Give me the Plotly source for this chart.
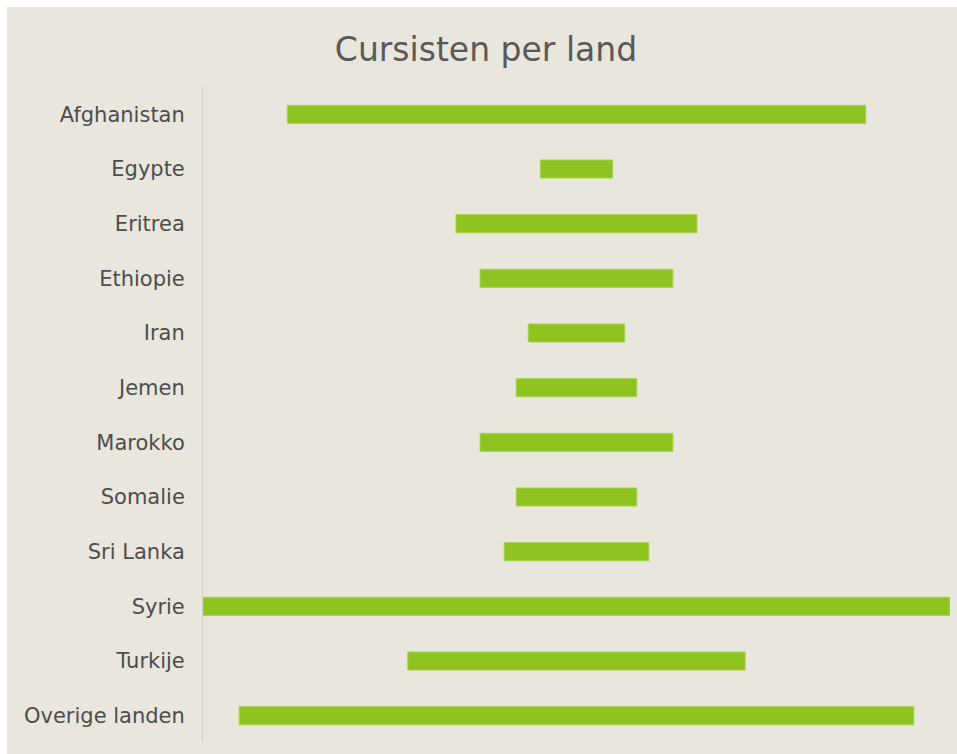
import plotly.graph_objects as go

countries = ["Afghanistan", "Egypte", "Eritrea", "Ethiopie", "Iran", "Jemen",
             "Marokko", "Somalie", "Sri Lanka", "Syrie", "Turkije", "Overige landen"]
cursisten = [48, 6, 20, 16, 8, 10, 16, 10, 12, 62, 28, 56]

BG = "#E9E6DD"
TXT = "#4D4D4D"
W, H = 957, 754
L, R, T, B = 203, 7, 87, 11
pw, ph = W - L - R, H - T - B

fig = go.Figure(go.Funnel(
    y=countries,
    x=cursisten,
    textinfo="none",
    connector={"visible": False},
    marker={"color": "#8FC31F", "line": {"color": "#A8D14E", "width": 1}},
    hoverinfo="x+y",
))

fig.update_layout(
    width=W, height=H,
    margin=dict(l=L, r=R, t=T, b=B),
    paper_bgcolor="white",
    plot_bgcolor="rgba(0,0,0,0)",
    funnelgap=0.67,
    showlegend=False,
    title=dict(text="Cursisten per land", x=486 / W, xanchor="center",
               y=1 - 49 / H, yanchor="middle",
               font=dict(family="DejaVu Sans", size=33, color="#595959")),
    font=dict(family="DejaVu Sans", size=21, color=TXT),
    xaxis=dict(visible=False, range=[-max(cursisten) / 2, max(cursisten) / 2]),
    yaxis=dict(showline=True, linecolor="#D3D0C7", linewidth=1, ticks="",
               ticklabelstandoff=13, showgrid=False, zeroline=False,
               tickfont=dict(family="DejaVu Sans", size=21, color=TXT)),
    shapes=[dict(type="rect", xref="paper", yref="paper", layer="below",
                 x0=(7 - L) / pw, x1=(W - L) / pw,
                 y0=(ph + T - H) / ph, y1=(ph + T - 7) / ph,
                 fillcolor=BG, line=dict(width=0))],
)

fig.write_html("out.html",
               config={"displayModeBar": False},
               post_script="document.body.style.margin='0';document.body.style.padding='0';")
